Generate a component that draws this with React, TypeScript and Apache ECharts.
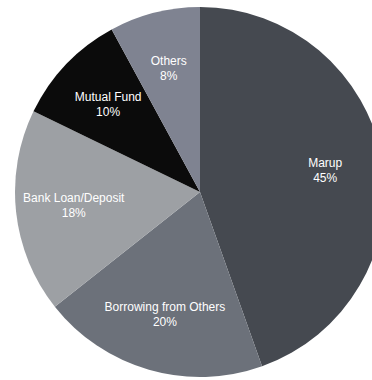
import React, { useEffect, useRef } from "react";
import * as echarts from "echarts";

// Funding sources, share in percent
const categories = ["Marup", "Borrowing from Others", "Bank Loan/Deposit", "Mutual Fund", "Others"];
const shares = [45, 20, 18, 10, 8];
const sliceColors = ["#454950", "#6c717a", "#9da0a4", "#0b0b0b", "#7f8391"];

export default function App() {
  const ref = useRef<HTMLDivElement>(null);

  useEffect(() => {
    document.body.style.margin = "0";
    if (!ref.current) return;
    const chart = echarts.init(ref.current, undefined, { renderer: "svg" });
    const data = categories.map((name, i) => ({
      name,
      value: shares[i],
      itemStyle: { color: sliceColors[i] },
    }));
    chart.setOption({
      animation: false,
      series: [
        {
          type: "pie",
          center: [200, 192],
          radius: [0, 185],
          startAngle: 90,
          clockwise: true,
          silent: true,
          label: { show: false },
          labelLine: { show: false },
          itemStyle: { borderWidth: 0 },
          data,
        },
        {
          // transparent ring used only to place the labels further out
          type: "pie",
          center: [200, 192],
          radius: [63, 185],
          startAngle: 90,
          clockwise: true,
          silent: true,
          itemStyle: { color: "rgba(0,0,0,0)", borderWidth: 0 },
          label: {
            show: true,
            position: "inside",
            formatter: "{b}\n{c}%",
            color: "#ffffff",
            fontFamily: "Liberation Sans, Arial, Helvetica, sans-serif",
            fontSize: 12,
            lineHeight: 15,
            align: "center",
          },
          labelLine: { show: false },
          data: categories.map((name, i) => ({ name, value: shares[i] })),
        },
      ],
    });
    return () => chart.dispose();
  }, []);

  return <div ref={ref} style={{ width: 372, height: 380 }} />;
}
